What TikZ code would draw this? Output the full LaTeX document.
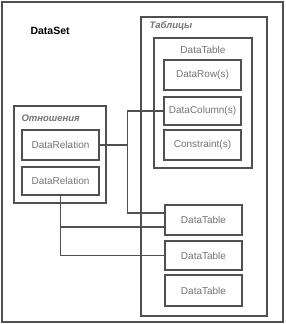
\documentclass[tikz,border=0pt]{standalone}
\usepackage{fontspec}
\setmainfont{Liberation Sans}
\usepackage{tikz}
\usetikzlibrary{positioning, calc}
\definecolor{cLine}{RGB}{80,80,80}
\definecolor{cText}{RGB}{115,115,115}

\begin{document}
\begin{tikzpicture}[x=1pt, y=-1pt,
    frame/.style={draw=cLine, line width=1.1pt, inner sep=0pt},
    item/.style={frame, minimum width=77pt, minimum height=30pt, text=cText,
                 font=\fontsize{10}{12}\selectfont},
    title/.style={anchor=west, text=cText, font=\fontsize{9.5}{11}\selectfont\bfseries\itshape},
    wire/.style={draw=cLine, line width=1.1pt}]

    \useasboundingbox (0,0) rectangle (285,324);

    % --- DataSet ---
    \node[frame, minimum width=281pt, minimum height=320pt] (dataset) at (142.5,162) {};
    \node[anchor=west, font=\fontsize{10.5}{12}\selectfont\bfseries] (dslabel) at (27,31) {DataSet};

    % --- Tables ---
    \node[frame, minimum width=126pt, minimum height=299pt] (tables) at (204,166.5) {};
    \node[title] (tlabel) at (146,26) {Таблицы};
    \node[frame, minimum width=98pt, minimum height=130pt] (dtbig) at (203,103) {};
    \node[text=cText, font=\fontsize{10}{12}\selectfont] (dtlabel) at (203,50) {DataTable};
    \node[item] (row) at (202.5,75) {DataRow(s)};
    \node[item, minimum height=28pt] (col) at (202.5,111) {DataColumn(s)};
    \node[item] (con) at (202.5,145) {Constraint(s)};
    \node[item] (dt1) at (203.5,220) {DataTable};
    \node[item, minimum height=29pt] (dt2) at (203.5,255.5) {DataTable};
    \node[item, minimum height=31pt] (dt3) at (203.5,290.5) {DataTable};

    % --- Relations ---
    \node[frame, minimum width=92pt, minimum height=97pt] (rel) at (60,154.5) {};
    \node[title] (rlabel) at (18,118) {Отношения};
    \node[item] (dr1) at (60.5,145) {DataRelation};
    \node[item, minimum height=28pt] (dr2) at (60.5,181) {DataRelation};

    % --- Wires ---
    \draw[wire] (dr1.east) -- ++(28,0) coordinate (jA) |- (col.west);
    \draw[wire] (jA) |- ([yshift=7pt]dt1.west);
    \draw[wire] (dr2.south) |- (dt2.west);
    \draw[wire] ([yshift=-7pt]dt1.west) -| (dr2.south);

\end{tikzpicture}
\end{document}
